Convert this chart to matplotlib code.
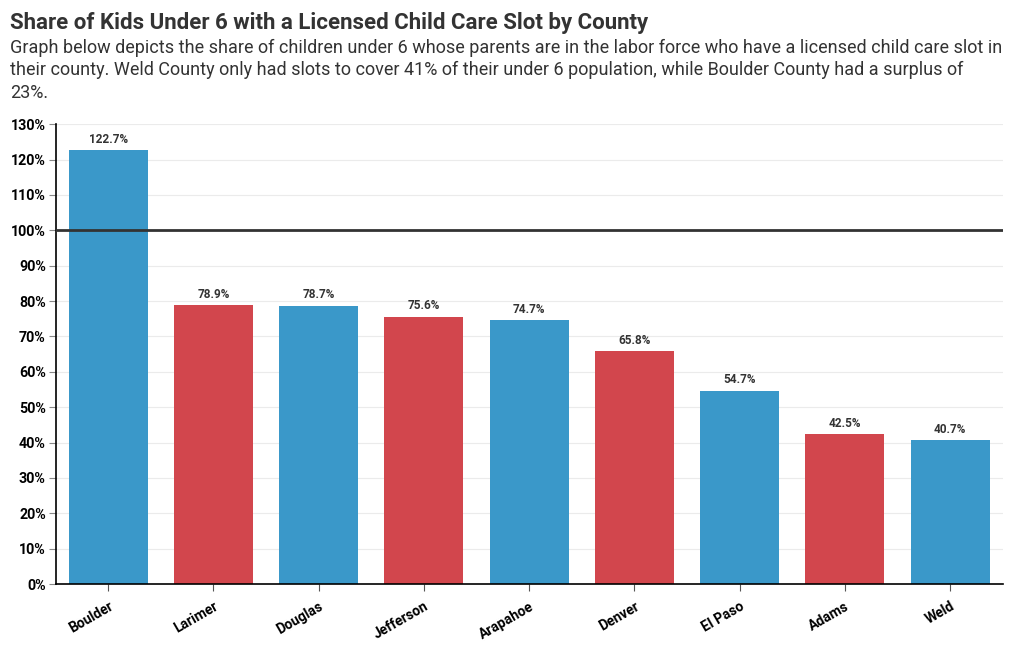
import matplotlib
matplotlib.use("Agg")
import matplotlib.pyplot as plt
from matplotlib.ticker import FuncFormatter

counties = ["Boulder", "Larimer", "Douglas", "Jefferson", "Arapahoe", "Denver", "El Paso", "Adams", "Weld"]
shares = [122.7, 78.9, 78.7, 75.6, 74.7, 65.8, 54.7, 42.5, 40.7]
bar_colors = ["#3a98c9", "#d2464d", "#3a98c9", "#d2464d", "#3a98c9", "#d2464d", "#3a98c9", "#d2464d", "#3a98c9"]
y_ticks = list(range(0, 131, 10))
reference_line = 100

plt.rcParams['font.family'] = ['Roboto', 'DejaVu Sans']

fig = plt.figure(figsize=(10.2, 6.5), dpi=100)
ax = fig.add_axes([0.0545, 0.1015, 0.9285, 0.7075])

x = range(len(counties))
ax.bar(x, shares, width=0.75, color=bar_colors, zorder=2)
for xi, v in zip(x, shares):
    ax.annotate(f"{v:.1f}%", (xi, v), xytext=(0, 3), textcoords="offset points",
                ha="center", va="bottom", fontsize=8.5, fontweight="bold", color="#333333")

ax.axhline(reference_line, color="#333333", lw=2, zorder=3)

ax.set_xlim(-0.5, len(counties) - 0.5)
ax.set_ylim(0, 130)
ax.set_yticks(y_ticks)
ax.yaxis.set_major_formatter(FuncFormatter(lambda v, p: f"{int(v)}%"))
ax.grid(axis="y", color="#ebebeb", lw=0.8, zorder=0)
ax.set_axisbelow(True)
for s in ["top", "right"]:
    ax.spines[s].set_visible(False)
ax.spines["left"].set_color("black")
ax.spines["bottom"].set_color("black")
ax.spines["left"].set_linewidth(1.2)
ax.spines["bottom"].set_linewidth(1.2)

ax.set_xticks(list(x))
ax.set_xticklabels(counties, rotation=30, ha="right", rotation_mode="anchor",
                   fontsize=10, fontweight="bold")
ax.tick_params(axis="x", length=5, color="#555555", pad=6)
ax.tick_params(axis="y", length=5, color="#888888", pad=2, labelsize=10.3)
for lab in ax.get_yticklabels():
    lab.set_fontweight("bold")

fig.text(0.0098, 0.964, "Share of Kids Under 6 with a Licensed Child Care Slot by County",
         fontsize=16, fontweight="bold", color="#333333", va="center", ha="left")
fig.text(0.0098, 0.940,
         "Graph below depicts the share of children under 6 whose parents are in the labor force who have a licensed child care slot in\n"
         "their county. Weld County only had slots to cover 41% of their under 6 population, while Boulder County had a surplus of\n"
         "23%.",
         fontsize=13, color="#333333", va="top", ha="left", linespacing=1.3)

fig.savefig("out.png", dpi=100)
